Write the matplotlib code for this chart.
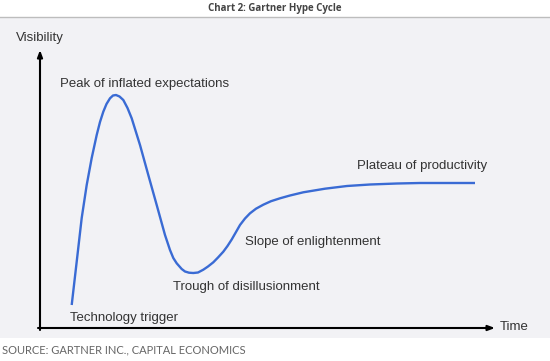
import matplotlib.pyplot as plt
from matplotlib.patches import Rectangle

# hype curve (time, visibility)
time = [31.7, 36.7, 41.7, 46.7, 51.7, 56.7, 60, 63.3, 66.5, 70, 73, 76, 79.5,
        83.3, 87.5, 91.7, 100, 108.3, 116.7, 125, 130, 133.3, 136.7, 141.7,
        145, 149, 153.3, 158, 163.3, 168, 173.3, 178, 183.3, 187.5, 191.7,
        196, 200, 205, 210, 216, 223.3, 231, 240, 250, 263.3, 285, 307, 330,
        357, 380, 400, 435]
visibility = [23, 66.3, 110, 143, 170, 193, 206, 216.3, 224, 229.7, 232.5, 233,
              231.5, 228, 220, 209.7, 183, 153, 123, 93, 78, 70, 64.7, 59,
              56.5, 55.3, 55, 55.5, 58.3, 61.5, 65.7, 70.5, 76.3, 82, 88.5,
              96, 103, 109.5, 114.7, 119.3, 123.3, 126.8, 129.7, 132.5, 135.7,
              139.3, 142, 143.5, 144.5, 145, 145, 145]

phases = ["Peak of inflated expectations", "Technology trigger",
          "Trough of disillusionment", "Slope of enlightenment",
          "Plateau of productivity"]
phase_t = [20, 30, 133, 205, 317]
phase_v = [244, 10, 41, 86, 162]

W, H = 550, 361
fig = plt.figure(figsize=(W / 100, H / 100), dpi=100)
fig.patch.set_facecolor("white")

# grey panel and title bar
fig.add_artist(Rectangle((0, (H - 338) / H), 1, 320 / H, transform=fig.transFigure,
                         facecolor="#f2f2f5", edgecolor="none", zorder=0))
fig.add_artist(plt.Line2D([0, 1], [(H - 17) / H] * 2, transform=fig.transFigure,
                          color="#bdbdbd", lw=1))
fig.text(0.5, (H - 8) / H, "Chart 2: Gartner Hype Cycle", ha="center", va="center",
         fontsize=7, fontweight="bold", color="#444444", family="Open Sans")
fig.text(2 / W, (H - 350) / H, "SOURCE: GARTNER INC., CAPITAL ECONOMICS",
         ha="left", va="center", fontsize=8, color="#666666", family="Lato")

ax = fig.add_axes([40 / W, (H - 328) / H, 455 / W, 278 / H])
ax.set_xlim(0, 455)
ax.set_ylim(0, 278)
ax.axis("off")

ax.plot(time, visibility, color="#3a6bd4", lw=1.7, solid_joinstyle="round",
        solid_capstyle="butt", clip_on=False)

arrow = dict(arrowstyle="-|>,head_length=0.4,head_width=0.15", color="black",
             lw=1.5, shrinkA=0, shrinkB=0)
ax.annotate("", xy=(0, 278), xytext=(0, -2), arrowprops=arrow,
            annotation_clip=False)
ax.annotate("", xy=(455, 0), xytext=(-2, 0), arrowprops=arrow,
            annotation_clip=False)

font = dict(fontsize=9.5, color="#333333", family="Liberation Sans")
ax.text(0, 290, "Visibility", ha="center", va="center", clip_on=False, **font)
ax.text(460, 1, "Time", ha="left", va="center", clip_on=False, **font)
for label, t, v in zip(phases, phase_t, phase_v):
    ax.text(t, v, label, ha="left", va="center", clip_on=False, **font)

fig.savefig("out.png", dpi=100)
